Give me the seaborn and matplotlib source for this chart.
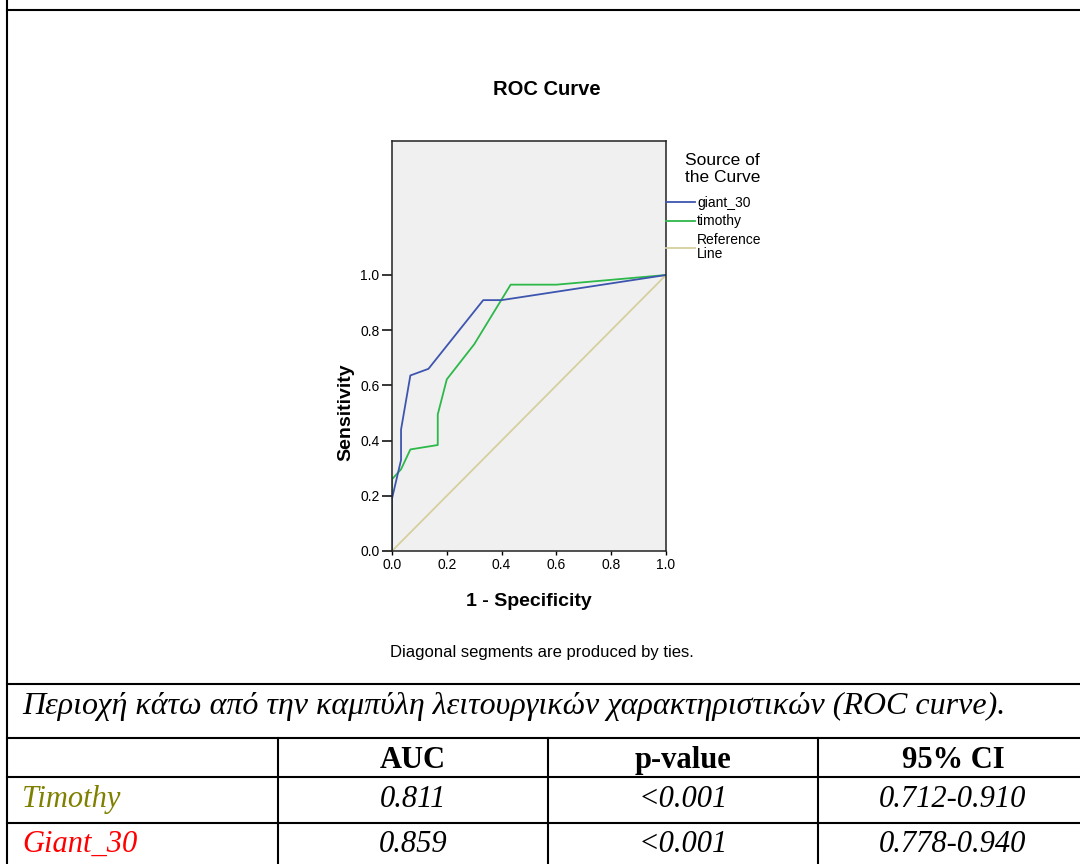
import numpy as np
import pandas as pd
import matplotlib
matplotlib.use("Agg")
import matplotlib.pyplot as plt
from matplotlib.lines import Line2D
import seaborn as sns

# ---------------- data ----------------
giant_fpr = [0.0, 0.0, 0.033, 0.033, 0.067, 0.133, 0.333, 0.40, 1.0]
giant_tpr = [0.0, 0.19, 0.33, 0.44, 0.636, 0.66, 0.909, 0.909, 1.0]
timothy_fpr = [0.0, 0.0, 0.033, 0.067, 0.167, 0.167, 0.20, 0.30, 0.433, 0.60, 1.0]
timothy_tpr = [0.0, 0.26, 0.296, 0.368, 0.384, 0.495, 0.622, 0.749, 0.965, 0.965, 1.0]
ref_fpr = [0.0, 1.0]
ref_tpr = [0.0, 1.0]

series_names = ["giant_30", "timothy", "Reference\nLine"]
series_colors = ["#3E55AF", "#2DB84A", "#D6CF9E"]

x_ticks = [0.0, 0.2, 0.4, 0.6, 0.8, 1.0]
y_ticks = [0.0, 0.2, 0.4, 0.6, 0.8, 1.0]

table_header = ["AUC", "p-value", "95% CI"]
table_rows = ["Timothy", "Giant_30"]
table_row_colors = ["#808000", "#FF0000"]
auc_values = ["0.811", "0.859"]
p_values = ["<0.001", "<0.001"]
ci_values = ["0.712-0.910", "0.778-0.940"]
caption = "Περιοχή κάτω από την καμπύλη λειτουργικών χαρακτηριστικών (ROC curve)."

# ---------------- figure ----------------
W, H = 1080, 864
fig = plt.figure(figsize=(W / 100, H / 100), dpi=100)
fig.patch.set_facecolor("white")

def fx(px):
    return px / W

def fy(py):
    return 1 - py / H

sans = ["Liberation Sans", "DejaVu Sans"]
serif = ["Liberation Serif", "DejaVu Serif"]

# axes placement
L, R, T, B = 392, 666, 141, 551
ax = fig.add_axes([fx(L), fy(B), (R - L) / W, (B - T) / H])
ax.set_facecolor("#F0F0F0")

df = pd.concat([
    pd.DataFrame({"fpr": giant_fpr, "tpr": giant_tpr, "src": series_names[0]}),
    pd.DataFrame({"fpr": timothy_fpr, "tpr": timothy_tpr, "src": series_names[1]}),
    pd.DataFrame({"fpr": ref_fpr, "tpr": ref_tpr, "src": series_names[2]}),
], ignore_index=True)

palette = dict(zip(series_names, series_colors))
for name in [series_names[2], series_names[1], series_names[0]]:
    sub = df[df["src"] == name]
    sns.lineplot(data=sub, x="fpr", y="tpr", color=palette[name], sort=False,
                 estimator=None, linewidth=1.3, ax=ax, legend=False)

# the axis range above 1.0 is left empty like the reference
ax.set_xlim(0, 1.0)
ax.set_ylim(0, (B - T) / (B - 275))
ax.set_xticks(x_ticks)
ax.set_yticks(y_ticks)
ax.set_xticklabels([f"{v:.1f}" for v in x_ticks], fontsize=10, family=sans)
ax.set_yticklabels([f"{v:.1f}" for v in y_ticks], fontsize=10, family=sans)
ax.tick_params(axis="y", direction="out", length=7, width=1.1, pad=2, color="black")
ax.tick_params(axis="x", direction="out", length=3, width=1.0, pad=2, color="black")
ax.set_xlabel("")
ax.set_ylabel("")
for s in ax.spines.values():
    s.set_visible(True)
    s.set_color("#222222")
    s.set_linewidth(1.1)

# titles and labels
fig.text(fx(547), fy(95), "ROC Curve", ha="center", va="baseline",
         fontsize=14.5, fontweight="bold", family=sans)
fig.text(fx(529), fy(606), "1 - Specificity", ha="center", va="baseline",
         fontsize=14, fontweight="bold", family=sans)
fig.text(fx(346), fy(412), "Sensitivity", ha="center", va="center", rotation=90,
         fontsize=14, fontweight="bold", family=sans)
fig.text(fx(542), fy(657), "Diagonal segments are produced by ties.", ha="center",
         va="baseline", fontsize=12, family=sans)

# legend
fig.text(fx(685), fy(169), "Source of\nthe Curve", ha="left", va="center",
         fontsize=12.5, family=sans, linespacing=1.15)
handles = [Line2D([0], [0], color=c, lw=1.3) for c in series_colors]
leg = ax.legend(handles, series_names, loc="upper left",
                bbox_to_anchor=(fx(666), fy(196)), bbox_transform=fig.transFigure,
                frameon=False, fontsize=10, handlelength=2.1, handletextpad=0.15,
                borderpad=0, borderaxespad=0, labelspacing=0.32)
for t in leg.get_texts():
    t.set_family(sans)
    t.set_linespacing(1.0)

# ---------------- table ----------------
lw = 1.5
def hline(y, x0=6.5, x1=W):
    fig.add_artist(Line2D([fx(x0), fx(x1)], [fy(y), fy(y)], color="black", lw=lw,
                          transform=fig.transFigure))

def vline(x, y0, y1):
    fig.add_artist(Line2D([fx(x), fx(x)], [fy(y0), fy(y1)], color="black", lw=lw,
                          transform=fig.transFigure))

hline(10)
hline(684)
hline(738)
hline(777)
hline(823)
vline(6.5, 0, H)
for xc in [278, 548, 818]:
    vline(xc, 738, H)

cap = fig.text(fx(22), fy(714), caption, ha="left", va="baseline",
               fontsize=22, style="italic", family=serif)
fig.canvas.draw()
wpx = cap.get_window_extent().width
cap.set_fontsize(22 * 981 / wpx)

col_centers = [413, 683, 953]
for xc, h in zip(col_centers, table_header):
    fig.text(fx(xc), fy(768), h, ha="center", va="baseline", fontsize=22,
             fontweight="bold", family=serif)

row_baselines = [807, 852]
for i, (name, col) in enumerate(zip(table_rows, table_row_colors)):
    yb = row_baselines[i]
    fig.text(fx(22), fy(yb), name, ha="left", va="baseline", fontsize=22,
             style="italic", color=col, family=serif)
    for xc, val in zip(col_centers, [auc_values[i], p_values[i], ci_values[i]]):
        fig.text(fx(xc), fy(yb), val, ha="center", va="baseline", fontsize=22,
                 style="italic", family=serif)

fig.savefig("out.png", dpi=100, facecolor="white")
